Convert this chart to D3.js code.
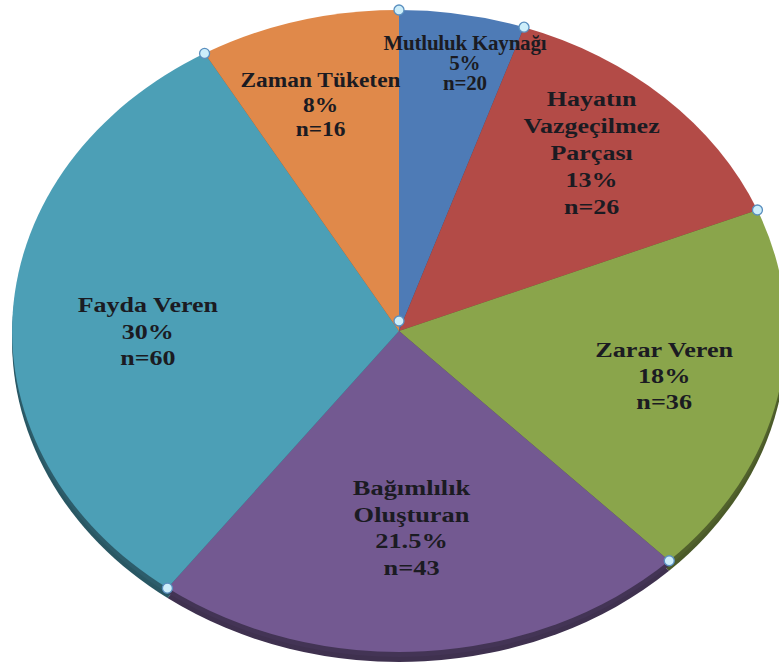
<!DOCTYPE html>
<html><head><meta charset="utf-8">
<script src="https://cdn.jsdelivr.net/npm/d3@7"></script>
<style>html,body{margin:0;padding:0;background:#fff;}svg{display:block;}</style>
</head><body>
<svg id="chart" width="779" height="669"></svg>
<script>
// ---- data ----
const categories = ["Mutluluk Kaynağı", "Hayatın Vazgeçilmez Parçası", "Zarar Veren", "Bağımlılık Oluşturan", "Fayda Veren", "Zaman Tüketen"];
const categoryLines = [["Mutluluk Kaynağı"], ["Hayatın", "Vazgeçilmez", "Parçası"], ["Zarar Veren"], ["Bağımlılık", "Oluşturan"], ["Fayda Veren"], ["Zaman Tüketen"]];
const percents = [5, 13, 18, 21.5, 30, 8];
const percentLabels = ["5%", "13%", "18%", "21.5%", "30%", "8%"];
const counts = [20, 26, 36, 43, 60, 16];
const colors = ["#4e7bb6", "#b34b47", "#8aa54b", "#735991", "#4c9fb6", "#e0894a"];

// ---- layout ----
const cx = 399, cy = 331, rx = 387, ry = 321, depth = 10;
const labelR = [0.85, 0.74, 0.70, 0.61, 0.65, 0.74];
const labelDx = [12, -4, 0, -3, 0, -4];
const labelDy = [1.5, -5, 0, 2, 13.4, 3.7];
const fontSize = [20, 20, 20, 20, 20, 20];
const stretch = [1.05, 1.3, 1.31, 1.32, 1.3, 1.17];
const letterSp = [-0.2, 0, 0, 0, 0, 0];
const lineH = [20, 27, 26, 26.5, 26.5, 24.5];

const svg = d3.select("#chart");
const pie = d3.pie().sort(null).value(d => d)(percents);
const arc = d3.arc().innerRadius(0).outerRadius(1);

// side / depth
const gDepth = svg.append("g").attr("transform", `translate(${cx},${cy + depth}) scale(${rx},${ry})`);
gDepth.selectAll("path").data(pie).enter().append("path")
  .attr("d", arc).attr("fill", (d, i) => d3.color(colors[i]).darker(1.7));
const gDepth2 = svg.append("g").attr("transform", `translate(${cx},${cy + depth / 2}) scale(${rx},${ry})`);
gDepth2.selectAll("path").data(pie).enter().append("path")
  .attr("d", arc).attr("fill", (d, i) => d3.color(colors[i]).darker(1.5));

// top face
const gTop = svg.append("g").attr("transform", `translate(${cx},${cy}) scale(${rx},${ry})`);
gTop.selectAll("path").data(pie).enter().append("path")
  .attr("d", arc).attr("fill", (d, i) => colors[i]);

// labels
pie.forEach((d, i) => {
  const mid = (d.startAngle + d.endAngle) / 2;
  const x = cx + rx * labelR[i] * Math.sin(mid) + labelDx[i];
  const y = cy - ry * labelR[i] * Math.cos(mid) + labelDy[i];
  const lines = categoryLines[i].concat([percentLabels[i], "n=" + counts[i]]);
  const n = lines.length;
  const g = svg.append("g").attr("transform", `translate(${x},${y}) scale(${stretch[i]},1)`);
  const t = g.append("text")
    .attr("text-anchor", "middle")
    .attr("font-family", "'Liberation Serif','Times New Roman',serif")
    .attr("font-weight", "bold")
    .attr("font-size", fontSize[i])
    .attr("letter-spacing", letterSp[i])
    .attr("fill", "#1b1b22");
  lines.forEach((ln, k) => {
    t.append("tspan").attr("x", 0)
      .attr("y", (k - (n - 1) / 2) * lineH[i] + fontSize[i] * 0.33)
      .text(ln);
  });
});

// selection handles
const handles = pie.map(d => [cx + rx * Math.sin(d.startAngle), cy - ry * Math.cos(d.startAngle)]);
handles.push([cx, cy - 10]);
svg.selectAll("circle.h").data(handles).enter().append("circle")
  .attr("class", "h")
  .attr("cx", d => d[0]).attr("cy", d => d[1]).attr("r", 5)
  .attr("fill", "#cdeefa").attr("stroke", "#5a8fbf").attr("stroke-width", 1.3);
</script>
</body></html>
